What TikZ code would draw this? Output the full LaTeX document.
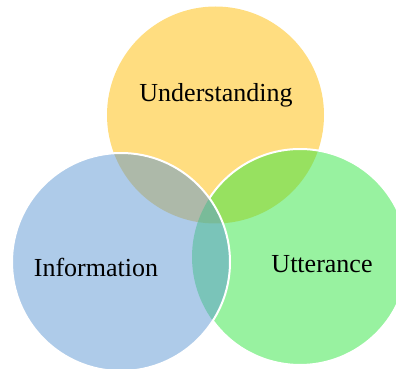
\documentclass[tikz,border=0pt]{standalone}
\usepackage{fontspec}
\setmainfont{Liberation Serif}
\definecolor{understandYellow}{RGB}{255,221,128}
\definecolor{infoBlue}{RGB}{93,151,211}
\definecolor{utterGreen}{RGB}{49,229,65}
\begin{document}
\begin{tikzpicture}[x=1pt,y=1pt]
\tikzstyle{bubble}=[circle,inner sep=0pt,outer sep=0pt,fill opacity=0.5]
\tikzstyle{rim}=[white,line width=2pt]
\tikzstyle{word}=[anchor=base,inner sep=0pt,font=\fontsize{26}{31}\selectfont]

\clip (0,0) rectangle (396,369);

\node[bubble,fill=understandYellow,fill opacity=1,minimum size=217pt] (understand) at (215.5,254) {};
\node[bubble,fill=utterGreen,minimum size=216pt] (utter) at (300,112) {};

%only the part of the green rim outside the blue circle shows
\draw[rim] (utter.center) ++(216.2:108) arc[start angle=216.2,end angle=507,radius=108];

\node[bubble,fill=infoBlue,draw=white,draw opacity=1,line width=2pt,minimum size=218pt] (info) at (121,107) {};

\node[word] (understandText) at (216,267) {Understanding};
\node[word] (infoText) at (96,92) {Information};
\node[word] (utterText) at (322,96) {Utterance};

\end{tikzpicture}
\end{document}
